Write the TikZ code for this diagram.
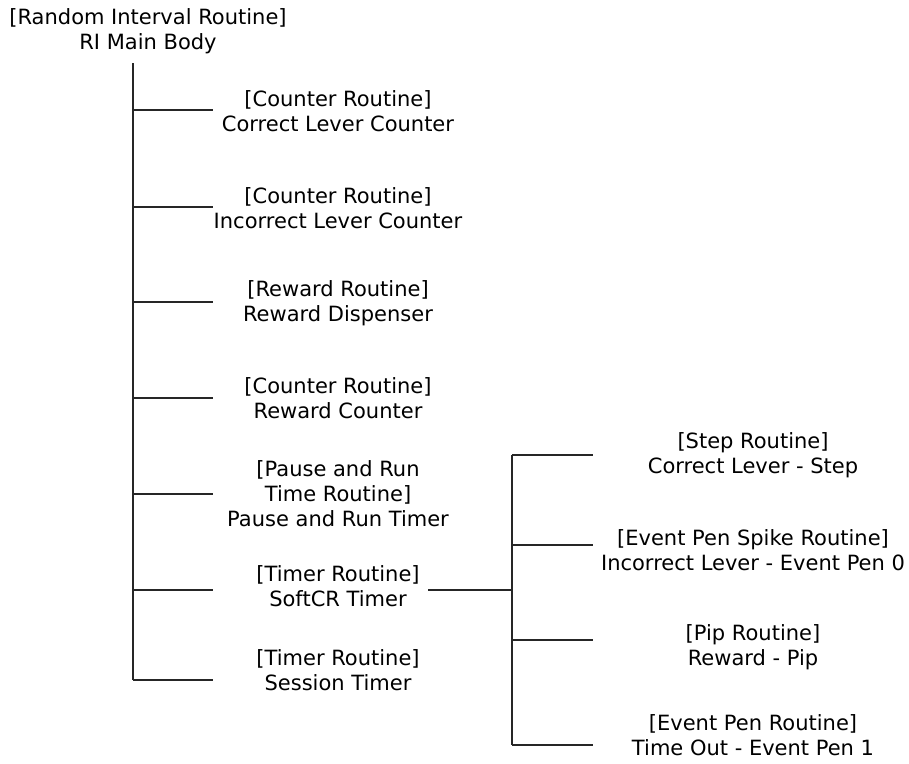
\documentclass[tikz,border=0pt]{standalone}
\usepackage{fontspec}
\setmainfont{DejaVu Sans}
\tikzset{
  routine/.style={align=center, font=\fontsize{21}{25}\selectfont, inner sep=0pt},
  branch/.style={line width=1.7pt, draw=black!85}
}
\begin{document}
\begin{tikzpicture}[x=1pt, y=-1pt]
  \useasboundingbox (0,0) rectangle (909,763);
  % main body
  \node[routine] (main) at (148,31) {[Random Interval Routine]\\RI Main Body};
  % draw main vertical line
  \coordinate (mtop) at (133,63);
  \coordinate (mbot) at (133,680);
  \draw[branch] (mtop) -- (mbot);
  % first level routines
  \node[routine] (clc) at (338,111) {[Counter Routine]\\Correct Lever Counter};
  \node[routine] (ilc) at (338,208) {[Counter Routine]\\Incorrect Lever Counter};
  \node[routine] (rd) at (338,303) {[Reward Routine]\\Reward Dispenser};
  \node[routine] (rc) at (338,398) {[Counter Routine]\\Reward Counter};
  \node[routine] (prt) at (338,494) {[Pause and Run\\Time Routine]\\Pause and Run Timer};
  \node[routine] (sct) at (338,586) {[Timer Routine]\\SoftCR Timer};
  \node[routine] (st) at (338,670) {[Timer Routine]\\Session Timer};
  % draw branches of main line
  \coordinate (j1) at (133,110); \coordinate (e1) at (213,110);
  \coordinate (j2) at (133,207); \coordinate (e2) at (213,207);
  \coordinate (j3) at (133,302); \coordinate (e3) at (213,302);
  \coordinate (j4) at (133,398); \coordinate (e4) at (213,398);
  \coordinate (j5) at (133,494); \coordinate (e5) at (213,494);
  \coordinate (j6) at (133,590); \coordinate (e6) at (213,590);
  \coordinate (e7) at (213,680);
  \draw[branch] (j1) -- (e1);
  \draw[branch] (j2) -- (e2);
  \draw[branch] (j3) -- (e3);
  \draw[branch] (j4) -- (e4);
  \draw[branch] (j5) -- (e5);
  \draw[branch] (j6) -- (e6);
  \draw[branch] (mbot) -- (e7);
  % draw SoftCR sub line
  \coordinate (s0) at (428,590);
  \coordinate (sj) at (512,590);
  \coordinate (stop) at (512,455);
  \coordinate (sbot) at (512,745);
  \draw[branch] (s0) -- (sj);
  \draw[branch] (stop) -- (sbot);
  % second level routines
  \node[routine] (cls) at (753,455) {[Step Routine]\\Correct Lever - Step};
  \node[routine] (ilep) at (753,550) {[Event Pen Spike Routine]\\Incorrect Lever - Event Pen 0};
  \node[routine] (rp) at (753,647) {[Pip Routine]\\Reward - Pip};
  \node[routine] (toep) at (753,735) {[Event Pen Routine]\\Time Out - Event Pen 1};
  \coordinate (f1) at (593,455);
  \coordinate (k2) at (512,545); \coordinate (f2) at (593,545);
  \coordinate (k3) at (512,640); \coordinate (f3) at (593,640);
  \coordinate (f4) at (593,745);
  \draw[branch] (stop) -- (f1);
  \draw[branch] (k2) -- (f2);
  \draw[branch] (k3) -- (f3);
  \draw[branch] (sbot) -- (f4);
\end{tikzpicture}
\end{document}
